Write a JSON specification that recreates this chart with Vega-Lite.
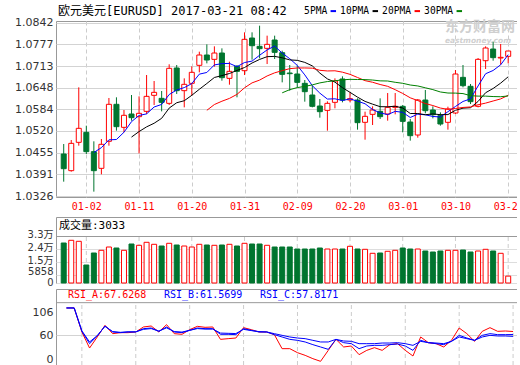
{
  "$schema": "https://vega.github.io/schema/vega-lite/v6.json",
  "usermeta": {"embedOptions": {"actions": false}},
  "background": "#ffffff",
  "padding": {"left": 0, "top": 5, "right": -7, "bottom": 0},
  "spacing": 0,
  "config": {
    "view": {"stroke": "#999999", "strokeWidth": 1},
    "axis": {"labelFont": "DejaVu Sans, Noto Sans CJK SC", "labelFontSize": 11, "labelColor": "#333333", "ticks": false, "domain": false, "labelPadding": 3, "labelOverlap": false},
    "legend": {"padding": 0}
  },
  "resolve": {"scale": {"x": "independent", "y": "independent", "color": "independent"}},
  "datasets": {
    "ticks": [
      {"i": 3, "d": "01-02"}, {"i": 10, "d": "01-11"}, {"i": 17, "d": "01-20"}, {"i": 24, "d": "01-31"},
      {"i": 31, "d": "02-09"}, {"i": 38, "d": "02-20"}, {"i": 45, "d": "03-01"}, {"i": 52, "d": "03-10"}, {"i": 59, "d": "03-21"}
    ],
    "k": [
      {"i":0,"d":"12-28","o":1.04514,"h":1.04811,"l":1.03692,"c":1.04078,"v":27905},
      {"i":1,"d":"12-29","o":1.04019,"h":1.04930,"l":1.03989,"c":1.04831,"v":29788,"ra":115.2,"rb":115.2,"rc":115.2},
      {"i":2,"d":"12-30","o":1.04861,"h":1.06496,"l":1.04762,"c":1.05277,"v":29090,"ra":115.2,"rb":115.2,"rc":115.2},
      {"i":3,"d":"01-02","o":1.05158,"h":1.05356,"l":1.04514,"c":1.04584,"v":12557,"ra":66.7,"rb":68.0,"rc":69.0},
      {"i":4,"d":"01-03","o":1.04584,"h":1.04891,"l":1.03395,"c":1.04019,"v":20928,"ma5":1.04558,"ra":34.3,"rb":43.1,"rc":46.5},
      {"i":5,"d":"01-04","o":1.04088,"h":1.04960,"l":1.03910,"c":1.04802,"v":22812,"ma5":1.04703,"ra":56.6,"rb":58.6,"rc":59.5},
      {"i":6,"d":"01-05","o":1.04891,"h":1.06179,"l":1.04762,"c":1.05991,"v":25114,"ma5":1.04935,"ra":80.1,"rb":78.8,"rc":78.0},
      {"i":7,"d":"01-06","o":1.05991,"h":1.06199,"l":1.05208,"c":1.05327,"v":24416,"ma5":1.04945,"ra":63.3,"rb":66.7,"rc":67.5},
      {"i":8,"d":"01-09","o":1.05307,"h":1.05822,"l":1.05158,"c":1.05664,"v":22812,"ma5":1.05161,"ra":65.3,"rb":65.3,"rc":66.0},
      {"i":9,"d":"01-10","o":1.05703,"h":1.06268,"l":1.05505,"c":1.05594,"v":27206,"ma5":1.05476,"ma10":1.05017,"ra":65.3,"rb":66.7,"rc":67.0},
      {"i":10,"d":"01-11","o":1.05624,"h":1.06228,"l":1.04534,"c":1.05723,"v":26300,"ma5":1.05660,"ma10":1.05181,"ra":66.7,"rb":66.7,"rc":67.0},
      {"i":11,"d":"01-12","o":1.05782,"h":1.06862,"l":1.05703,"c":1.06228,"v":28392,"ma5":1.05707,"ma10":1.05321,"ra":76.8,"rb":73.4,"rc":72.0},
      {"i":12,"d":"01-13","o":1.06258,"h":1.06684,"l":1.05971,"c":1.06347,"v":26997,"ma5":1.05911,"ma10":1.05428,"ra":78.8,"rb":74.7,"rc":73.5},
      {"i":13,"d":"01-16","o":1.06169,"h":1.06387,"l":1.05782,"c":1.06050,"v":25811,"ma5":1.05988,"ma10":1.05575,"ra":66.7,"rb":68.0,"rc":68.5},
      {"i":14,"d":"01-17","o":1.06020,"h":1.07180,"l":1.05971,"c":1.07061,"v":27695,"ma5":1.06282,"ma10":1.05879,"ra":81.5,"rb":76.8,"rc":75.0},
      {"i":15,"d":"01-18","o":1.07071,"h":1.07160,"l":1.06298,"c":1.06397,"v":26509,"ma5":1.06417,"ma10":1.06038,"ra":63.3,"rb":66.7,"rc":67.5},
      {"i":16,"d":"01-19","o":1.06397,"h":1.06763,"l":1.05901,"c":1.06585,"v":25811,"ma5":1.06488,"ma10":1.06098,"ra":62.0,"rb":65.3,"rc":66.5},
      {"i":17,"d":"01-20","o":1.06615,"h":1.07120,"l":1.06248,"c":1.06942,"v":25114,"ma5":1.06607,"ma10":1.06259,"ra":71.4,"rb":70.0,"rc":70.0},
      {"i":18,"d":"01-23","o":1.07150,"h":1.07556,"l":1.06942,"c":1.07457,"v":26997,"ma5":1.06888,"ma10":1.06438,"ra":78.1,"rb":74.7,"rc":73.5},
      {"i":19,"d":"01-24","o":1.07457,"h":1.07774,"l":1.07209,"c":1.07308,"v":26509,"ma5":1.06938,"ma10":1.06610,"ma20":1.05813,"ra":76.1,"rb":73.4,"rc":72.5},
      {"i":20,"d":"01-25","o":1.07328,"h":1.07715,"l":1.07110,"c":1.07516,"v":26300,"ma5":1.07162,"ma10":1.06789,"ma20":1.05985,"ra":76.8,"rb":73.4,"rc":72.5},
      {"i":21,"d":"01-26","o":1.07516,"h":1.07655,"l":1.06694,"c":1.06783,"v":26509,"ma5":1.07201,"ma10":1.06845,"ma20":1.06083,"ra":51.8,"rb":62.0,"rc":64.5},
      {"i":22,"d":"01-27","o":1.06763,"h":1.07259,"l":1.06575,"c":1.06971,"v":26997,"ma5":1.07207,"ma10":1.06907,"ma20":1.06167,"ra":53.2,"rb":62.0,"rc":64.0},
      {"i":23,"d":"01-30","o":1.07120,"h":1.07160,"l":1.06199,"c":1.06971,"v":25811,"ma5":1.07110,"ma10":1.06999,"ma20":1.06287,"ra":54.5,"rb":61.3,"rc":63.5},
      {"i":24,"d":"01-31","o":1.06991,"h":1.08131,"l":1.06862,"c":1.07923,"v":27695,"ma5":1.07233,"ma10":1.07085,"ma20":1.06482,"ra":75.4,"rb":73.4,"rc":72.0},
      {"i":25,"d":"02-01","o":1.07962,"h":1.08131,"l":1.07318,"c":1.07734,"v":27206,"ma5":1.07276,"ma10":1.07219,"ma20":1.06629,"ra":71.4,"rb":70.0,"rc":69.5},
      {"i":26,"d":"02-02","o":1.07715,"h":1.08329,"l":1.07358,"c":1.07645,"v":27206,"ma5":1.07449,"ma10":1.07325,"ma20":1.06711,"ra":66.7,"rb":66.7,"rc":67.5},
      {"i":27,"d":"02-03","o":1.07655,"h":1.08032,"l":1.07189,"c":1.07774,"v":26300,"ma5":1.07609,"ma10":1.07408,"ma20":1.06834,"ra":66.7,"rb":66.7,"rc":66.7},
      {"i":28,"d":"02-06","o":1.07903,"h":1.08032,"l":1.07338,"c":1.07536,"v":25114,"ma5":1.07722,"ma10":1.07416,"ma20":1.06927,"ra":61.3,"rb":61.3,"rc":63.3},
      {"i":29,"d":"02-07","o":1.07526,"h":1.07586,"l":1.06644,"c":1.06882,"v":25114,"ma5":1.07514,"ma10":1.07374,"ma20":1.06992,"ma30":1.06333,"ra":33.0,"rb":56.6,"rc":59.9},
      {"i":30,"d":"02-08","o":1.06922,"h":1.07160,"l":1.06397,"c":1.06902,"v":25114,"ma5":1.07348,"ma10":1.07312,"ma20":1.07051,"ma30":1.06427,"ra":33.0,"rb":51.8,"rc":56.6},
      {"i":31,"d":"02-09","o":1.06892,"h":1.07140,"l":1.06496,"c":1.06644,"v":23718,"ma5":1.07148,"ma10":1.07298,"ma20":1.07071,"ma30":1.06488,"ra":24.9,"rb":49.8,"rc":54.5},
      {"i":32,"d":"02-10","o":1.06615,"h":1.06714,"l":1.06070,"c":1.06367,"v":23718,"ma5":1.06866,"ma10":1.07238,"ma20":1.07072,"ma30":1.06524,"ra":19.5,"rb":46.5,"rc":53.2},
      {"i":33,"d":"02-13","o":1.06268,"h":1.06545,"l":1.05901,"c":1.05931,"v":23718,"ma5":1.06545,"ma10":1.07134,"ma20":1.07066,"ma30":1.06569,"ra":12.8,"rb":41.1,"rc":49.8},
      {"i":34,"d":"02-14","o":1.05941,"h":1.06149,"l":1.05594,"c":1.05773,"v":24416,"ma5":1.06323,"ma10":1.06919,"ma20":1.07002,"ma30":1.06628,"ra":7.4,"rb":36.4,"rc":46.5},
      {"i":35,"d":"02-15","o":1.05812,"h":1.06080,"l":1.05208,"c":1.06020,"v":23718,"ma5":1.06147,"ma10":1.06747,"ma20":1.06983,"ma30":1.06668,"ra":29.6,"rb":31.6,"rc":46.5},
      {"i":36,"d":"02-16","o":1.06050,"h":1.06763,"l":1.05872,"c":1.06684,"v":23718,"ma5":1.06155,"ma10":1.06651,"ma20":1.06988,"ma30":1.06691,"ra":51.8,"rb":51.8,"rc":51.8},
      {"i":37,"d":"02-17","o":1.06744,"h":1.06823,"l":1.06050,"c":1.06119,"v":23718,"ma5":1.06105,"ma10":1.06486,"ma20":1.06947,"ma30":1.06718,"ra":36.4,"rb":45.1,"rc":48.5},
      {"i":38,"d":"02-20","o":1.06119,"h":1.06347,"l":1.06050,"c":1.06159,"v":25602,"ma5":1.06151,"ma10":1.06348,"ma20":1.06882,"ma30":1.06734,"ra":38.4,"rb":43.1,"rc":47.8},
      {"i":39,"d":"02-21","o":1.06119,"h":1.06169,"l":1.05238,"c":1.05446,"v":23718,"ma5":1.06086,"ma10":1.06205,"ma20":1.06789,"ma30":1.06729,"ra":20.9,"rb":33.0,"rc":43.1},
      {"i":40,"d":"02-22","o":1.05456,"h":1.05773,"l":1.04940,"c":1.05634,"v":23509,"ma5":1.06008,"ma10":1.06078,"ma20":1.06695,"ma30":1.06726,"ra":29.6,"rb":38.4,"rc":43.1},
      {"i":41,"d":"02-23","o":1.05693,"h":1.05931,"l":1.05376,"c":1.05822,"v":20719,"ma5":1.05836,"ma10":1.05996,"ma20":1.06647,"ma30":1.06713,"ra":35.0,"rb":39.7,"rc":43.1},
      {"i":42,"d":"02-24","o":1.05782,"h":1.06169,"l":1.05555,"c":1.05624,"v":20928,"ma5":1.05737,"ma10":1.05921,"ma20":1.06580,"ma30":1.06689,"ra":29.6,"rb":39.7,"rc":44.4},
      {"i":43,"d":"02-27","o":1.05703,"h":1.06327,"l":1.05505,"c":1.05901,"v":22114,"ma5":1.05685,"ma10":1.05918,"ma20":1.06526,"ma30":1.06684,"ra":41.1,"rb":41.1,"rc":44.4},
      {"i":44,"d":"02-28","o":1.05901,"h":1.06327,"l":1.05693,"c":1.05931,"v":22812,"ma5":1.05782,"ma10":1.05934,"ma20":1.06426,"ma30":1.06646,"ra":43.1,"rb":42.4,"rc":45.1},
      {"i":45,"d":"03-01","o":1.05931,"h":1.05971,"l":1.05158,"c":1.05485,"v":24416,"ma5":1.05753,"ma10":1.05881,"ma20":1.06314,"ma30":1.06616,"ra":29.6,"rb":38.4,"rc":43.1},
      {"i":46,"d":"03-02","o":1.05465,"h":1.05555,"l":1.04911,"c":1.05059,"v":23718,"ma5":1.05600,"ma10":1.05718,"ma20":1.06185,"ma30":1.06565,"ra":18.2,"rb":29.6,"rc":39.7},
      {"i":47,"d":"03-03","o":1.05079,"h":1.06149,"l":1.05000,"c":1.06119,"v":23718,"ma5":1.05699,"ma10":1.05718,"ma20":1.06102,"ma30":1.06537,"ra":56.6,"rb":49.8,"rc":47.8},
      {"i":48,"d":"03-06","o":1.06119,"h":1.06417,"l":1.05723,"c":1.05802,"v":22323,"ma5":1.05679,"ma10":1.05682,"ma20":1.06015,"ma30":1.06482,"ra":45.1,"rb":45.1,"rc":45.1},
      {"i":49,"d":"03-07","o":1.05822,"h":1.05931,"l":1.05574,"c":1.05683,"v":21626,"ma5":1.05630,"ma10":1.05706,"ma20":1.05955,"ma30":1.06428,"ra":43.1,"rb":43.1,"rc":44.4},
      {"i":50,"d":"03-08","o":1.05654,"h":1.05753,"l":1.05356,"c":1.05406,"v":22323,"ma5":1.05614,"ma10":1.05683,"ma20":1.05880,"ma30":1.06358,"ra":36.4,"rb":41.1,"rc":43.1},
      {"i":51,"d":"03-09","o":1.05456,"h":1.05921,"l":1.05238,"c":1.05852,"v":22812,"ma5":1.05772,"ma10":1.05686,"ma20":1.05841,"ma30":1.06327,"ra":49.8,"rb":47.8,"rc":47.8},
      {"i":52,"d":"03-10","o":1.05733,"h":1.07011,"l":1.05703,"c":1.06892,"v":22812,"ma5":1.05927,"ma10":1.05813,"ma20":1.05867,"ma30":1.06324,"ra":74.7,"rb":59.9,"rc":56.6},
      {"i":53,"d":"03-13","o":1.06793,"h":1.07160,"l":1.06496,"c":1.06545,"v":23021,"ma5":1.06076,"ma10":1.05877,"ma20":1.05898,"ma30":1.06310,"ra":63.3,"rb":54.5,"rc":53.2},
      {"i":54,"d":"03-14","o":1.06526,"h":1.06595,"l":1.06000,"c":1.06070,"v":21626,"ma5":1.06153,"ma10":1.05891,"ma20":1.05913,"ma30":1.06248,"ra":47.8,"rb":49.8,"rc":49.8},
      {"i":55,"d":"03-15","o":1.05931,"h":1.07368,"l":1.05900,"c":1.07328,"v":22323,"ma5":1.06537,"ma10":1.06076,"ma20":1.05978,"ma30":1.06235,"ra":68.0,"rb":59.9,"rc":56.6},
      {"i":56,"d":"03-16","o":1.07288,"h":1.07715,"l":1.07041,"c":1.07665,"v":23509,"ma5":1.06900,"ma10":1.06336,"ma20":1.06027,"ma30":1.06235,"ra":75.4,"rb":63.3,"rc":59.9},
      {"i":57,"d":"03-17","o":1.07635,"h":1.07853,"l":1.07288,"c":1.07378,"v":22323,"ma5":1.06997,"ma10":1.06462,"ma20":1.06090,"ma30":1.06222,"ra":68.0,"rb":61.3,"rc":58.6},
      {"i":58,"d":"03-20","o":1.07368,"h":1.07784,"l":1.07170,"c":1.07388,"v":20719,"ma5":1.07166,"ma10":1.06621,"ma20":1.06152,"ma30":1.06217,"ra":68.7,"rb":61.3,"rc":58.6},
      {"i":59,"d":"03-21","o":1.07417,"h":1.07576,"l":1.07209,"c":1.07576,"v":4800,"ma5":1.07467,"ma10":1.06810,"ma20":1.06258,"ma30":1.06240,"ra":67.6268,"rb":61.5699,"rc":57.8171}
    ]
  },
  "vconcat": [
    {
      "width": 463,
      "height": 176,
      "data": {"name": "k"},
      "layer": [
        {
          "data": {"values": [{"t": "东方财富网"}]},
          "mark": {"type": "text", "font": "Noto Sans CJK SC", "fontSize": 14, "fontWeight": "bold", "color": "#cfcfcf", "align": "left", "baseline": "middle"},
          "encoding": {"text": {"field": "t"}, "x": {"datum": 50.6, "type": "quantitative", "scale": {"domain": [-0.36, 59.77], "nice": false, "zero": false}}, "y": {"datum": 1.0829, "type": "quantitative"}}
        },
        {
          "data": {"values": [{"t": "eastmoney.com"}]},
          "mark": {"type": "text", "font": "DejaVu Sans", "fontSize": 7.5, "fontWeight": "bold", "fontStyle": "italic", "color": "#cfcfcf", "align": "left", "baseline": "middle"},
          "encoding": {"text": {"field": "t"}, "x": {"datum": 50.6, "type": "quantitative"}, "y": {"datum": 1.0787, "type": "quantitative"}}
        },
        {
          "mark": {"type": "rule", "strokeWidth": 1},
          "encoding": {
            "x": {
              "field": "i", "type": "quantitative", "title": null,
              "scale": {"domain": [-0.36, 59.77], "nice": false, "zero": false},
              "axis": {
                "title": null,
                "values": [3, 10, 17, 24, 31, 38, 45, 52, 59], "tickCount": 30,
                "labelExpr": "['01-02','01-11','01-20','01-31','02-09','02-20','03-01','03-10','03-21'][round((datum.value - 3) / 7)]",
                "labelFont": "DejaVu Sans Mono", "labelFontSize": 10, "labelColor": "#ff0000",
                "labelPadding": 4, "labelFlush": false, "labelOverlap": false,
                "grid": true, "gridColor": "#cccccc", "gridDash": [4, 3],
                "minExtent": 18, "maxExtent": 18
              }
            },
            "y": {
              "field": "l", "type": "quantitative", "title": null,
              "scale": {"domain": [1.03236, 1.08468], "nice": false, "zero": false},
              "axis": {
                "title": null,
                "values": [1.0326, 1.0391, 1.0455, 1.052, 1.0584, 1.0648, 1.0713, 1.0777, 1.0842], "tickCount": 30,
                "format": ".4f", "labelOverlap": false,
                "grid": true, "gridColor": "#d3d3d3",
                "minExtent": 55, "maxExtent": 55
              }
            },
            "y2": {"field": "h"},
            "color": {"condition": {"test": "datum.c >= datum.o", "value": "#ff0000"}, "value": "#00752f"}
          }
        },
        {
          "mark": {"type": "bar", "width": 5, "strokeWidth": 1},
          "encoding": {
            "x": {"field": "i", "type": "quantitative", "title": null},
            "y": {"field": "o", "type": "quantitative", "title": null},
            "y2": {"field": "c"},
            "fill": {"condition": {"test": "datum.c >= datum.o", "value": "#ffffff"}, "value": "#00752f"},
            "stroke": {"condition": {"test": "datum.c >= datum.o", "value": "#ff0000"}, "value": "#00752f"}
          }
        },
        {
          "transform": [{"fold": ["ma5", "ma10", "ma20", "ma30"], "as": ["s", "val"]}],
          "mark": {"type": "line", "strokeWidth": 1},
          "encoding": {
            "x": {"field": "i", "type": "quantitative", "title": null},
            "y": {"field": "val", "type": "quantitative", "title": null},
            "color": {
              "field": "s", "type": "nominal",
              "scale": {"domain": ["pad", "ma5", "ma10", "ma20", "ma30"], "range": ["rgba(0,0,0,0)", "#0000ff", "#000000", "#ff0000", "#008000"]},
              "legend": {
                "orient": "none", "legendX": 2, "legendY": -15, "direction": "horizontal",
                "title": "欧元美元[EURUSD] 2017-03-21 08:42",
                "titleOrient": "left", "titleFont": "DejaVu Sans Mono, Noto Sans CJK SC", "titleFontSize": 12,
                "titleFontWeight": "normal", "titleColor": "#000000", "titlePadding": 5.5, "titleLimit": 400,
                "symbolType": "stroke", "symbolSize": 30, "symbolStrokeWidth": 2,
                "labelFont": "DejaVu Sans Mono", "labelFontSize": 9.6, "labelColor": "#000000",
                "labelOffset": 2, "columnPadding": -1,
                "labelExpr": "datum.label == 'pad' ? '5PMA' : datum.label == 'ma5' ? '10PMA' : datum.label == 'ma10' ? '20PMA' : datum.label == 'ma20' ? '30PMA' : ''"
              }
            }
          }
        }
      ]
    },
    {
      "width": 463,
      "height": 66,
      "data": {"name": "k"},
      "title": {"text": "成交量:3033", "anchor": "start", "frame": "group", "offset": -14, "dx": 3, "font": "DejaVu Sans Mono, Noto Sans CJK SC", "fontSize": 11, "fontWeight": "normal", "color": "#000000"},
      "layer": [
        {
          "data": {"name": "ticks"},
          "mark": {"type": "rule", "color": "#cccccc", "strokeDash": [4, 3], "strokeWidth": 1},
          "encoding": {
            "x": {"field": "i", "type": "quantitative", "title": null, "scale": {"domain": [-0.36, 59.77], "nice": false, "zero": false}, "axis": null},
            "y": {"datum": 0, "type": "quantitative"}, "y2": {"datum": 32999}
          }
        },
        {
          "mark": {"type": "bar", "width": 5, "strokeWidth": 1},
          "encoding": {
            "x": {"field": "i", "type": "quantitative", "title": null, "axis": null},
            "y": {
              "field": "v", "type": "quantitative", "title": null,
              "scale": {"domain": [0, 46044], "nice": false},
              "axis": {
                "title": null,
                "values": [0, 5858, 14905, 23952, 32999], "tickCount": 30,
                "labelExpr": "datum.value == 32999 ? '3.3万' : datum.value == 23952 ? '2.4万' : datum.value == 14905 ? '1.5万' : datum.value == 5858 ? '5858' : '0'",
                "labelOverlap": false,
                "labelFontSize": 10,
                "labelOffset": {"condition": {"test": "datum.value == 5858", "value": -3}, "value": -1},
                "grid": true,
                "gridColor": {"condition": {"test": "datum.value == 32999", "value": "#999999"}, "value": "#dddddd"},
                "minExtent": 55, "maxExtent": 55
              }
            },
            "fill": {"condition": {"test": "datum.c >= datum.o", "value": "#ffffff"}, "value": "#00752f"},
            "stroke": {"condition": {"test": "datum.c >= datum.o", "value": "#ff0000"}, "value": "#00752f"}
          }
        }
      ]
    },
    {
      "width": 463,
      "height": 76,
      "data": {"name": "k"},
      "layer": [
        {
          "data": {"name": "ticks"},
          "mark": {"type": "rule", "color": "#cccccc", "strokeDash": [4, 3], "strokeWidth": 1},
          "encoding": {
            "x": {"field": "i", "type": "quantitative", "title": null, "scale": {"domain": [-0.36, 59.77], "nice": false, "zero": false}, "axis": null},
            "y": {"datum": 0, "type": "quantitative"}, "y2": {"datum": 125.9}
          }
        },
        {
          "data": {"values": [{"t": "header"}]},
          "mark": {"type": "rule", "color": "#999999", "strokeWidth": 1},
          "encoding": {"y": {"datum": 125.9, "type": "quantitative"}}
        },
        {
          "transform": [{"fold": ["ra", "rb", "rc"], "as": ["s", "val"]}],
          "mark": {"type": "line", "strokeWidth": 1},
          "encoding": {
            "x": {"field": "i", "type": "quantitative", "title": null, "axis": null},
            "y": {
              "field": "val", "type": "quantitative", "title": null,
              "scale": {"domain": [0, 153.5], "nice": false},
              "axis": {
                "title": null,
                "values": [0, 60, 106], "tickCount": 30,
                "labelOverlap": false,
                "grid": true,
                "gridColor": {"condition": {"test": "datum.value == 60", "value": "#d3d3d3"}, "value": "rgba(0,0,0,0)"},
                "labelFlush": true, "labelFlushOffset": -1,
                "minExtent": 55, "maxExtent": 55
              }
            },
            "color": {
              "field": "s", "type": "nominal",
              "scale": {"domain": ["ra", "rb", "rc"], "range": ["#ff0000", "#0000ff", "#0000ff"]},
              "legend": {
                "orient": "none", "legendX": 2, "legendY": 1, "direction": "horizontal", "title": null,
                "symbolSize": 0, "symbolStrokeWidth": 0, "symbolOpacity": 0,
                "labelOffset": 0, "columnPadding": 7,
                "labelFont": "DejaVu Sans Mono", "labelFontSize": 10,
                "labelExpr": "datum.label == 'ra' ? 'RSI_A:67.6268' : datum.label == 'rb' ? 'RSI_B:61.5699' : 'RSI_C:57.8171'",
                "encode": {"labels": {"update": {"fill": {"signal": "datum.value == 'ra' ? '#ff0000' : '#0000ff'"}}}}
              }
            }
          }
        }
      ]
    }
  ]
}
